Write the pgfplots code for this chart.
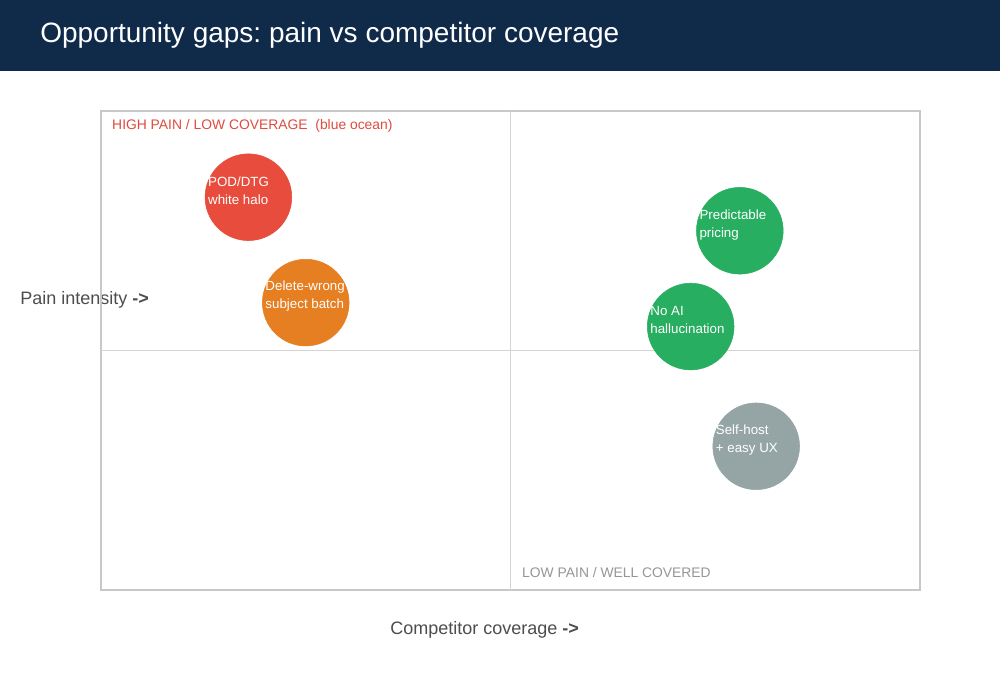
\documentclass[border=0pt]{standalone}
\usepackage{fontspec}
\setmainfont{Liberation Sans}
\usepackage{pgfplots}
\pgfplotsset{compat=1.18}
\frenchspacing
\definecolor{navy}{RGB}{16,42,74}
\definecolor{cred}{RGB}{231,76,60}
\definecolor{corange}{RGB}{230,126,34}
\definecolor{cgreen}{RGB}{39,174,96}
\definecolor{cgray}{RGB}{149,165,166}
\definecolor{framegray}{RGB}{200,200,200}
\definecolor{midgray}{RGB}{212,212,212}
\definecolor{labgray}{RGB}{77,77,77}
\definecolor{qgray}{RGB}{150,150,150}
\definecolor{qred}{RGB}{222,76,62}
\pgfplotsset{
  bub/.style={only marks, mark=*, mark size=32.5pt, mark options={fill=#1, draw=#1},
    every node near coord/.append style={anchor=west, xshift=-30.4pt, yshift=4.6pt,
      align=left, inner sep=0pt, text=white, font=\fontsize{10pt}{13.5pt}\selectfont}}
}
\begin{document}
\begin{tikzpicture}
\path[use as bounding box] (0,0) rectangle (750pt,-510pt);
\fill[white] (0,0) rectangle (750pt,-510pt);
\begin{scope}[x=0.75pt,y=-0.75pt]
\fill[navy] (0,0) rectangle (1000,71);
\node[anchor=base west, text=white, inner sep=0pt, font=\fontsize{21pt}{25pt}\selectfont] at (40,43) {Opportunity gaps: pain vs competitor coverage};
\node[anchor=base west, text=labgray, inner sep=0pt, font=\fontsize{13.5pt}{16pt}\selectfont] at (20,305) {Pain intensity \textbf{->}};
\node[anchor=base west, text=labgray, inner sep=0pt, font=\fontsize{13.5pt}{16pt}\selectfont] at (390,635) {Competitor coverage \textbf{->}};
\end{scope}
\begin{axis}[at={(75.75pt,-442.5pt)}, anchor=south west, scale only axis,
  width=614.25pt, height=359.25pt, xmin=0, xmax=10, ymin=0, ymax=10,
  xtick=\empty, ytick=\empty, axis line style={draw=framegray, line width=1.1pt},
  clip=false]
\draw[midgray, line width=0.75pt] (axis cs:5,0) -- (axis cs:5,10);
\draw[midgray, line width=0.75pt] (axis cs:0,5) -- (axis cs:10,5);
\node[anchor=base west, inner sep=0pt, text=qred, font=\fontsize{10.4pt}{12pt}\selectfont] at (axis cs:0.134,9.61) {HIGH PAIN / LOW COVERAGE\ \ (blue ocean)};
\node[anchor=base west, inner sep=0pt, text=qgray, font=\fontsize{10.4pt}{12pt}\selectfont] at (axis cs:5.14,0.271) {LOW PAIN / WELL COVERED};
\addplot[bub=cred, nodes near coords={POD/DTG\\white halo}] coordinates {(1.8,8.2)};
\addplot[bub=corange, nodes near coords={Delete-wrong\\subject batch}] coordinates {(2.5,6.0)};
\addplot[bub=cgreen, nodes near coords={Predictable\\pricing}] coordinates {(7.8,7.5)};
\addplot[bub=cgreen, nodes near coords={No AI\\hallucination}] coordinates {(7.2,5.5)};
\addplot[bub=cgray, nodes near coords={Self-host\\+ easy UX}] coordinates {(8.0,3.0)};
\end{axis}
\end{tikzpicture}
\end{document}
